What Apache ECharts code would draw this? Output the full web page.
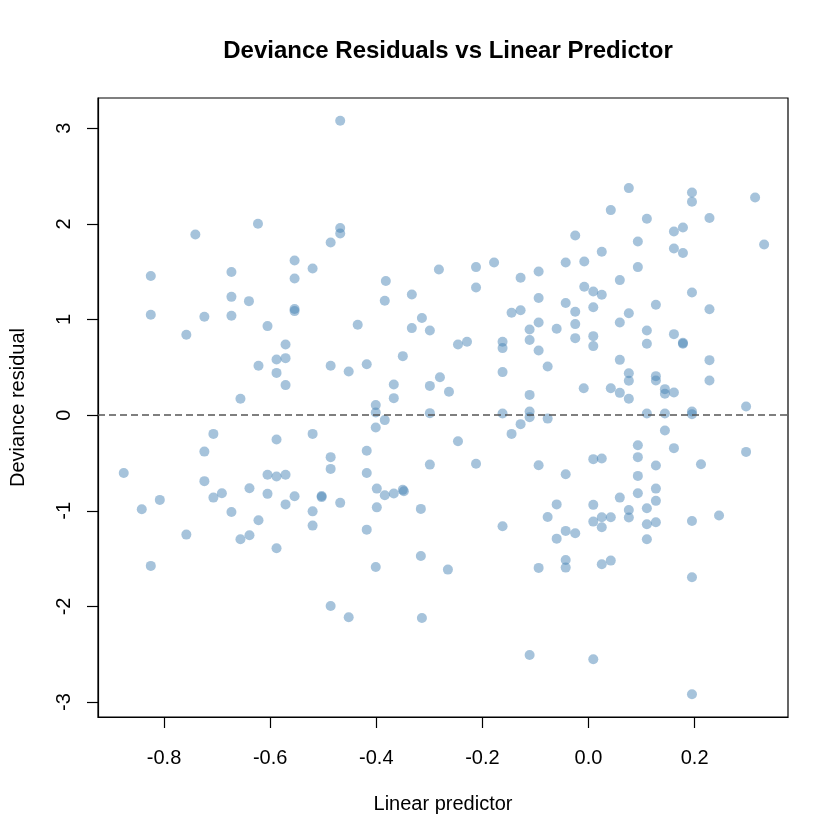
<!DOCTYPE html>
<html>
<head>
<meta charset="utf-8">
<script src="https://cdn.jsdelivr.net/npm/echarts@6/dist/echarts.min.js"></script>
<style>
  html, body { margin: 0; padding: 0; background: #fff; }
  #chart { width: 840px; height: 840px; }
</style>
</head>
<body>
<div id="chart"></div>
<script>
var linearPredictor = [
  -0.825, -0.741, -0.623, -0.486, -0.673, -0.554, -0.520, -0.554, -0.673, -0.640,
  -0.468, -0.468, -0.468, -0.382, -0.384, -0.333, -0.282, -0.212, -0.212, -0.178,
  -0.128, -0.094, -0.094, -0.043, -0.043, -0.145, -0.128, 0.076, 0.195, 0.195,
  0.314, 0.042, 0.110, 0.228, 0.161, 0.178, -0.025, 0.093, 0.331, 0.161,
  0.178, 0.025, -0.008, 0.093, 0.059, -0.008, 0.009, 0.025, 0.195, -0.025,
  0.009, 0.076, 0.127, 0.228,
  -0.825, -0.724, -0.673, -0.554, -0.554, -0.758, -0.605, -0.571, -0.588, -0.571,
  -0.622, -0.588, -0.571, -0.486, -0.656, -0.707, -0.588, -0.520, -0.724, -0.486,
  -0.486, -0.876, -0.724, -0.605, -0.588, -0.571, -0.639, -0.691, -0.707, -0.605,
  -0.554, -0.503, -0.503, -0.808, -0.842, -0.571, -0.673, -0.520,
  -0.435, -0.333, -0.314, -0.299, -0.452, -0.418, -0.350, -0.246, -0.229, -0.162,
  -0.162, -0.094, -0.111, -0.060, -0.111, -0.094, -0.077, -0.162, -0.367, -0.367,
  -0.299, -0.280, -0.263, -0.401, -0.401, -0.384, -0.401, -0.299, -0.162, -0.111,
  -0.111, -0.111, -0.128, -0.145, -0.077, -0.246, -0.418, -0.418, -0.299, -0.212,
  -0.094, -0.043, -0.399, -0.384, -0.367, -0.350, -0.348, -0.468, -0.399, -0.316,
  -0.060, -0.077,
  -0.025, -0.025, 0.009, 0.009, 0.059, 0.110, 0.110, 0.161, 0.178, 0.178,
  0.059, 0.228, 0.076, 0.076, 0.127, 0.127, -0.009, 0.042, 0.059, 0.076,
  0.144, 0.144, 0.161, 0.228, 0.110, 0.144, 0.195, 0.195, 0.297, 0.144,
  0.093, 0.161, 0.297, 0.009, 0.025, 0.093, 0.127, 0.212, 0.093, 0.127,
  0.059, 0.093, 0.127, 0.009, 0.076, 0.110, 0.025, 0.042, 0.246,
  -0.622, -0.520, -0.758, -0.656, -0.639, -0.588, -0.825, -0.486, -0.418, -0.401,
  -0.316, -0.265, -0.162, -0.043, -0.060, -0.094, -0.043, -0.043, -0.452, -0.314,
  -0.111, 0.076, 0.009, 0.025, 0.110, 0.127, 0.110, 0.195, -0.025, 0.025,
  0.042, 0.195, 0.009, 0.195
];

var devianceResidual = [
  1.454, 1.889, 2.001, 1.805, 1.496, 1.617, 1.533, 1.429, 1.237, 1.192,
  3.078, 1.956, 1.900, 1.402, 1.196, 1.262, 1.523, 1.548, 1.335, 1.596,
  1.436, 1.502, 1.224, 1.596, 1.172, 1.070, 1.096, 2.374, 2.328, 2.231,
  2.276, 2.144, 2.053, 2.061, 1.921, 1.962, 1.879, 1.816, 1.785, 1.743,
  1.695, 1.708, 1.607, 1.548, 1.412, 1.342, 1.293, 1.258, 1.282, 1.081,
  1.128, 1.065, 1.154, 1.107,
  1.049, 1.028, 1.039, 1.109, 1.088, 0.840, 0.931, 0.738, 0.582, 0.596,
  0.516, 0.442, 0.314, 0.516, 0.171, -0.196, -0.255, -0.196, -0.381, -0.439,
  -0.562, -0.604, -0.690, -0.624, -0.642, -0.624, -0.764, -0.816, -0.862, -0.823,
  -0.847, -0.846, -0.857, -0.886, -0.983, -0.933, -1.012, -1.006,
  0.945, 0.910, 1.015, 0.885, 0.456, 0.533, 0.617, 0.738, 0.767, 0.767,
  0.701, 0.969, 0.895, 0.903, 0.785, 0.676, 0.508, 0.450, 0.320, 0.178,
  0.306, 0.397, 0.244, 0.105, 0.027, -0.052, -0.130, 0.021, 0.017, 0.212,
  0.038, -0.021, -0.094, -0.196, -0.036, -0.272, -0.373, -0.604, -0.517, -0.509,
  -0.523, -0.617, -0.768, -0.837, -0.820, -0.781, -0.795, -0.917, -0.964, -0.980,
  -0.933, -1.064,
  0.952, 0.805, 0.826, 0.722, 0.969, 0.885, 0.746, 0.847, 0.756, 0.746,
  0.578, 0.575, 0.439, 0.359, 0.408, 0.362, 0.282, 0.282, 0.233, 0.171,
  0.272, 0.223, 0.236, 0.362, 0.017, 0.017, 0.038, 0.010, 0.090, -0.161,
  -0.314, -0.345, -0.384, -0.460, -0.454, -0.439, -0.527, -0.513, -0.635, -0.768,
  -0.862, -0.816, -0.896, -0.938, -0.991, -0.973, -1.067, -1.067, -1.050,
  -1.098, -1.155, -1.249, -1.297, -1.255, -1.391, -1.576, -1.995, -1.197, -1.587,
  -1.472, -1.615, -1.161, -1.210, -1.291, -1.597, -1.514, -1.594, -2.113, -2.120,
  -2.507, -1.071, -1.113, -1.172, -1.140, -1.119, -1.297, -1.106, -1.234, -1.559,
  -1.521, -1.695, -2.552, -2.918
];

var xTicks = [-0.8, -0.6, -0.4, -0.2, 0.0, 0.2];
var yTicks = [-3, -2, -1, 0, 1, 2, 3];

var points = [];
for (var i = 0; i < linearPredictor.length; i++) {
    points.push([linearPredictor[i], devianceResidual[i]]);
}

var fontFamily = '"Liberation Sans", Arial, Helvetica, sans-serif';

var option = {
    animation: false,
    backgroundColor: '#fff',
    title: {
        text: 'Deviance Residuals vs Linear Predictor',
        left: 443,
        top: 34,
        textAlign: 'center',
        textStyle: {fontFamily: fontFamily, fontSize: 24, fontWeight: 'bold', color: '#000'}
    },
    grid: {
        left: 98,
        right: 52,
        top: 98,
        bottom: 123,
        show: true,
        borderColor: '#000',
        borderWidth: 1.2,
        backgroundColor: 'transparent'
    },
    xAxis: {
        type: 'value',
        min: -0.9245,
        max: 0.376,
        name: 'Linear predictor',
        nameLocation: 'middle',
        nameGap: 77,
        nameTextStyle: {fontFamily: fontFamily, fontSize: 20, color: '#000'},
        axisLine: {show: true, onZero: false, lineStyle: {color: '#000', width: 1.2}},
        splitLine: {show: false},
        axisTick: {
            show: true, inside: false, length: 11,
            customValues: xTicks,
            lineStyle: {color: '#000', width: 1.2}
        },
        axisLabel: {
            customValues: xTicks,
            margin: 31,
            fontFamily: fontFamily, fontSize: 20, color: '#000',
            formatter: function (v) { return v.toFixed(1); }
        }
    },
    yAxis: {
        type: 'value',
        min: -3.156,
        max: 3.316,
        name: 'Deviance residual',
        nameLocation: 'middle',
        nameGap: 70,
        nameTextStyle: {fontFamily: fontFamily, fontSize: 20, color: '#000'},
        axisLine: {show: true, onZero: false, lineStyle: {color: '#000', width: 1.2}},
        splitLine: {show: false},
        axisTick: {
            show: true, inside: false, length: 11,
            customValues: yTicks,
            lineStyle: {color: '#000', width: 1.2}
        },
        axisLabel: {
            customValues: yTicks,
            rotate: 90,
            margin: 24,
            fontFamily: fontFamily, fontSize: 20, color: '#000',
            formatter: function (v) { return String(v); }
        }
    },
    series: [{
        type: 'scatter',
        data: points,
        symbol: 'circle',
        symbolSize: 10,
        itemStyle: {color: 'rgba(70,130,180,0.6)'},
        markLine: {
            silent: true,
            symbol: 'none',
            label: {show: false},
            lineStyle: {color: '#555', width: 1.5, type: [7, 4]},
            data: [{yAxis: 0}]
        }
    }]
};

var myChart = echarts.init(document.getElementById('chart'));
myChart.setOption(option);
</script>
</body>
</html>
